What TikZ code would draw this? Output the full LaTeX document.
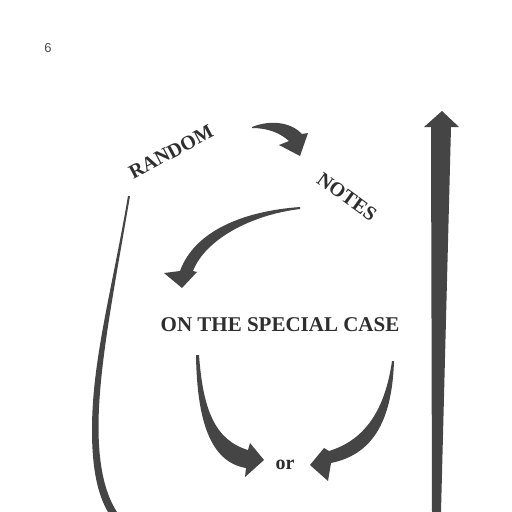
\documentclass[tikz,border=0pt]{standalone}
\usepackage{fontspec}
\setmainfont{Liberation Serif}
\newfontfamily\pagenumfont{Liberation Sans}
\definecolor{inkgray}{HTML}{454545}
\definecolor{textgray}{HTML}{2E2E2E}
\begin{document}
\begin{tikzpicture}[x=1pt,y=-1pt,
  title/.style={text=textgray,font=\bfseries\fontsize{20}{20}\selectfont,inner sep=0pt},
  bigtitle/.style={text=textgray,font=\bfseries\fontsize{21}{21}\selectfont,inner sep=0pt},
  fatarrow/.style={fill=inkgray,draw=none}]
\useasboundingbox[fill=white] (0,0) rectangle (512,512);

% page number
\node[text=black!70,font=\pagenumfont\fontsize{13}{13}\selectfont,inner sep=0pt] (pagenum) at (48,48) {6};

% texts
\node[title,rotate=28] (random) at (171,152) {RANDOM};
\node[title,rotate=-36] (notes) at (347,197) {NOTES};
\node[bigtitle] (special) at (280,325) {ON THE SPECIAL CASE};
\node[text=textgray,font=\bfseries\fontsize{20}{20}\selectfont,inner sep=0pt] (or) at (285,465) {or};

% arrow RANDOM -> NOTES
\fill[fatarrow] (252,127) .. controls (272,119) and (292,123) .. (302,134)
  -- (308,133) -- (300,156) -- (279,145) -- (289,141)
  .. controls (280,133) and (268,128) .. (252,128) -- cycle;

% arrow NOTES -> ON THE SPECIAL CASE
\fill[fatarrow] (300,207) .. controls (245,211) and (195,230) .. (180,271)
  -- (164,273) -- (182,288) -- (197,272) -- (193,271)
  .. controls (205,240) and (250,215) .. (300,209) -- cycle;

% lower left arrow -> or
\fill[fatarrow] (196,355) .. controls (197,420) and (210,462) .. (246,468)
  -- (245,477) -- (264,460) -- (250,443) -- (248,450)
  .. controls (215,440) and (203,410) .. (199,355) -- cycle;

% lower right arrow -> or
\fill[fatarrow] (394,361) .. controls (392,425) and (370,455) .. (331,463)
  -- (328,481) -- (310,465) -- (324,448) -- (329,451)
  .. controls (365,440) and (385,410) .. (392,361) -- cycle;

% left curved stroke
\fill[fatarrow] (128,196) .. controls (112,290) and (92,360) .. (92,430)
  .. controls (92,470) and (98,495) .. (108,512)
  -- (117,512) .. controls (106,495) and (99,470) .. (98.5,430)
  .. controls (98,370) and (114,290) .. (130,196) -- cycle;

% right tall up arrow
\fill[fatarrow] (424,127) -- (442,111) -- (459,127) -- (451,127)
  -- (441,512) -- (432,512) -- (431,127) -- cycle;
\end{tikzpicture}
\end{document}
